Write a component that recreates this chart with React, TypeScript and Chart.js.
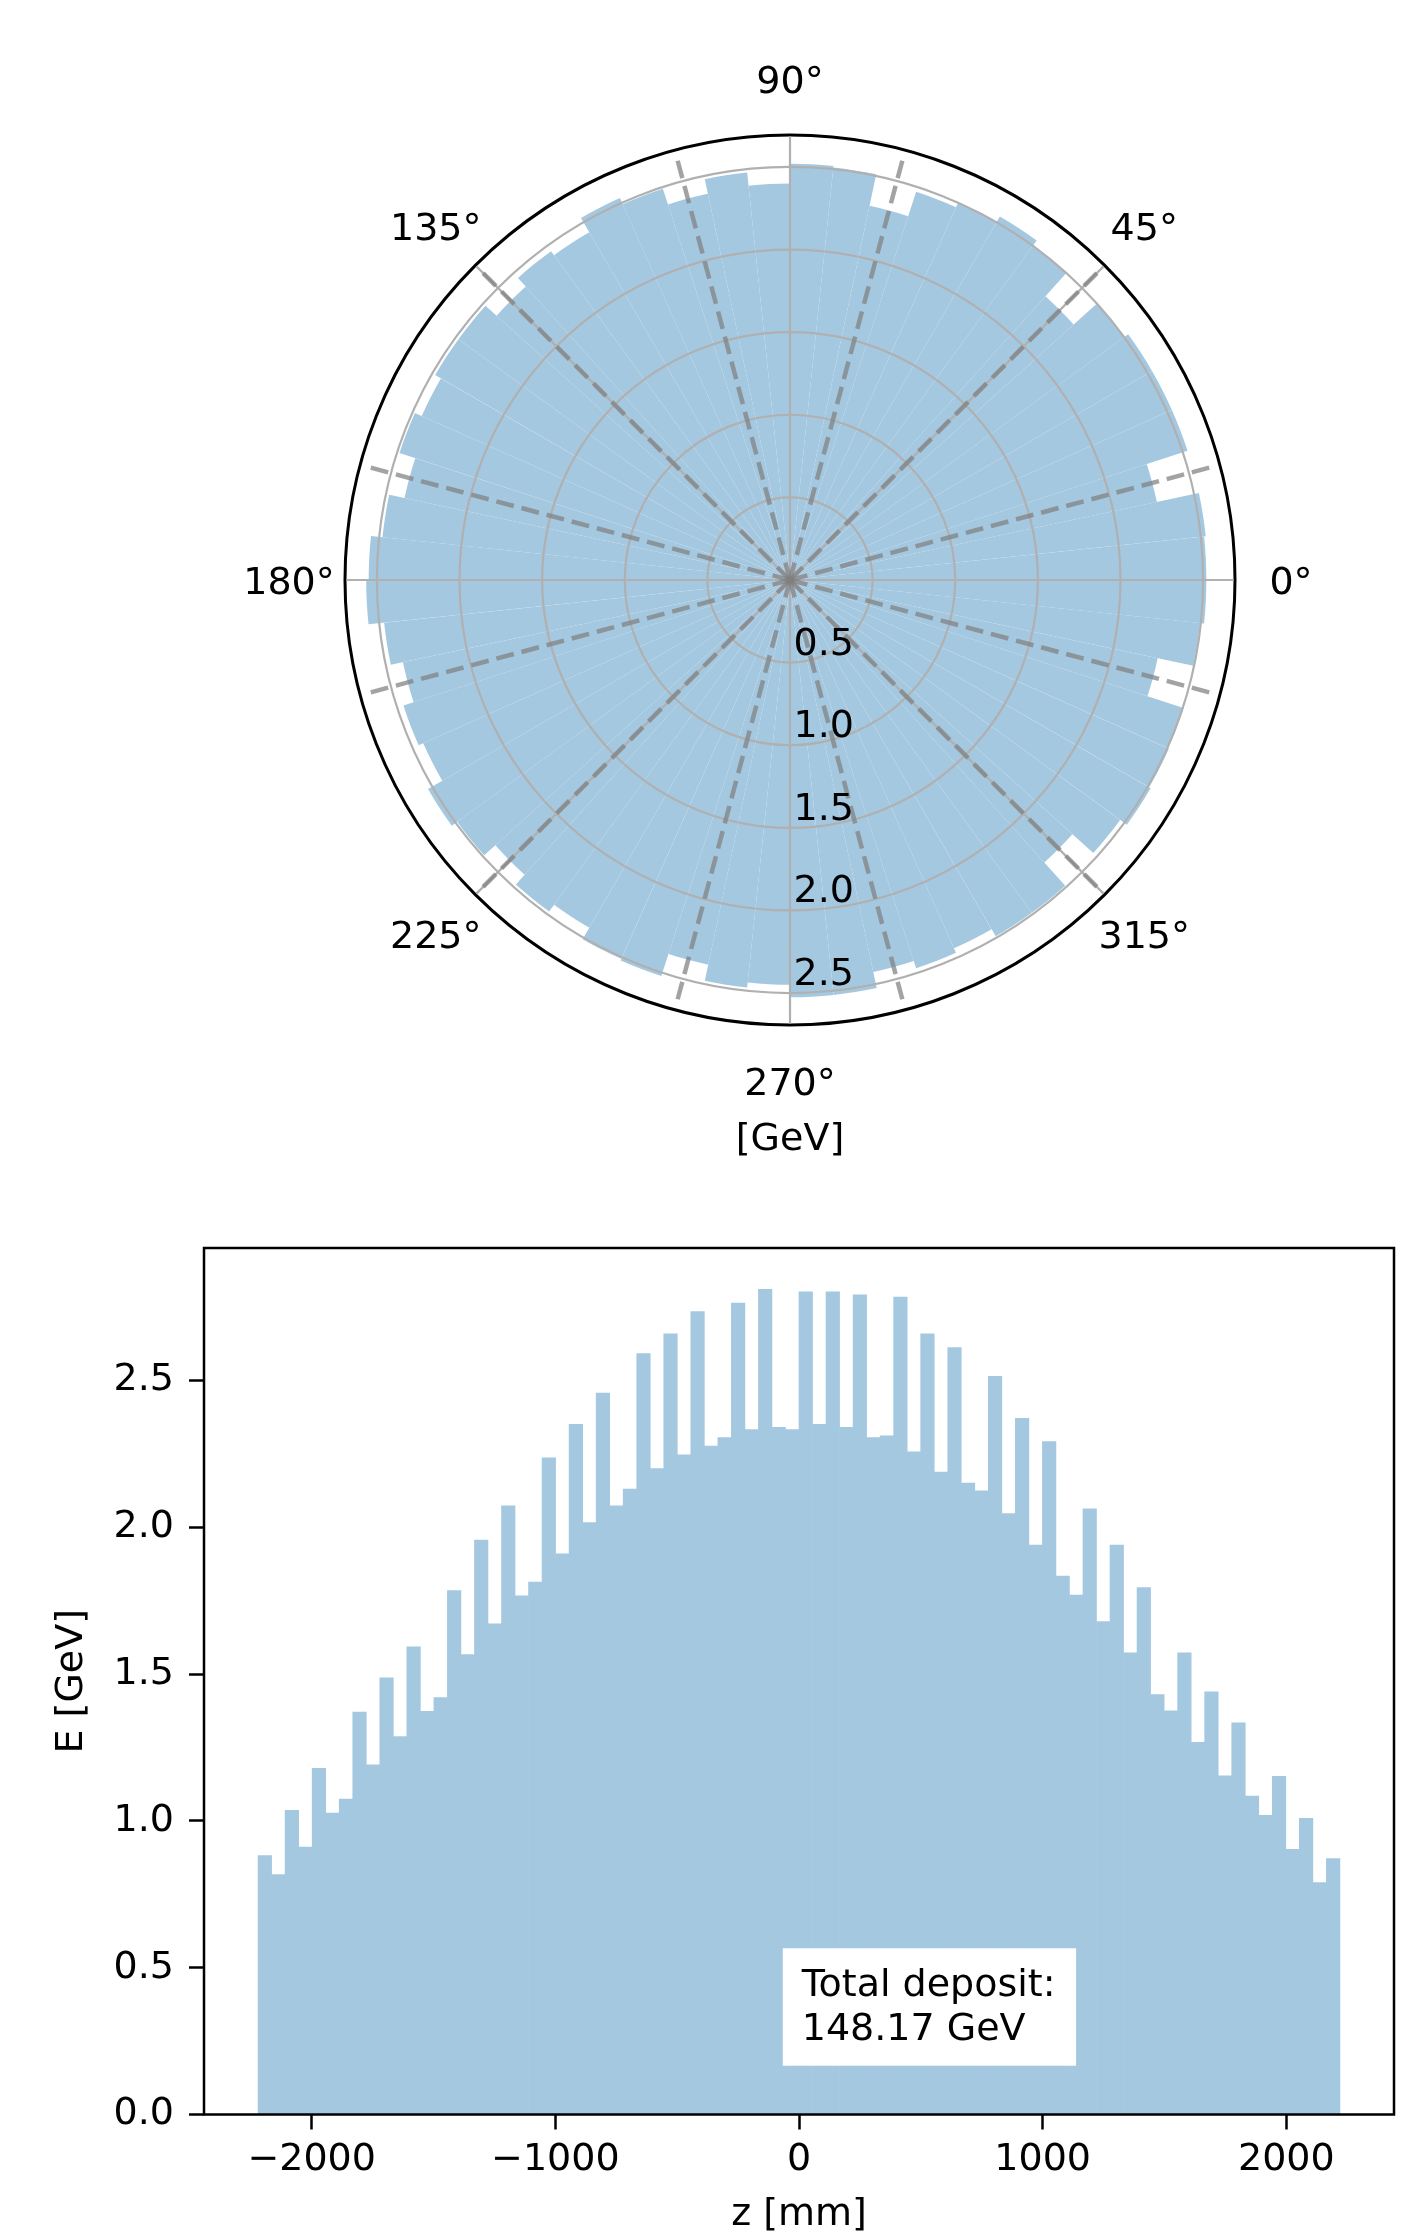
import React, { useEffect, useRef } from 'react';
import { Chart, registerables } from 'chart.js';

Chart.register(...registerables);

const FONT = "'DejaVu Sans', 'Liberation Sans', sans-serif";
const FS = 38;
const BAR_COLOR = 'rgb(165, 200, 225)';
const GRID_COLOR = '#b0b0b0';

// ---------- phi histogram (60 bins of 6 degrees, starting at 0 deg, counter-clockwise) ----------
const PHI_E = [
  2.52, 2.53, 2.27, 2.53, 2.53, 2.53, 2.50, 2.31, 2.50, 2.54,
  2.50, 2.47, 2.315, 2.51, 2.52, 2.40, 2.48, 2.39, 2.49, 2.53,
  2.43, 2.46, 2.39, 2.48, 2.48, 2.44, 2.485, 2.385, 2.48, 2.55,
  2.565, 2.47, 2.395, 2.46, 2.43, 2.53, 2.49, 2.40, 2.48, 2.43,
  2.51, 2.52, 2.38, 2.48, 2.45, 2.525, 2.525, 2.425, 2.47, 2.44,
  2.49, 2.49, 2.30, 2.47, 2.52, 2.51, 2.505, 2.275, 2.495, 2.52,
];
const PHI_BIN_LABELS = PHI_E.map((_, i) => `${i * 6}-${i * 6 + 6}`);
const R_TICKS = [0, 0.5, 1.0, 1.5, 2.0, 2.5];
const THETA_TICKS = [0, 45, 90, 135, 180, 225, 270, 315];
const MODULE_BOUNDARIES_DEG = [15, 45, 75, 105, 135, 165, 195, 225, 255, 285, 315, 345];
const MODULE_LINE_R = 2.65;

// ---------- z histogram ----------
const Z_RANGE = [-2220, 2220];
const Z_E = [
  0.882, 0.817, 1.036, 0.911, 1.179, 1.027, 1.074, 1.371, 1.191, 1.487,
  1.287, 1.593, 1.373, 1.420, 1.785, 1.567, 1.957, 1.671, 2.073, 1.767,
  1.814, 2.237, 1.910, 2.351, 2.016, 2.457, 2.073, 2.130, 2.592, 2.200,
  2.659, 2.247, 2.735, 2.277, 2.306, 2.764, 2.333, 2.811, 2.341, 2.333,
  2.802, 2.351, 2.802, 2.341, 2.792, 2.306, 2.312, 2.784, 2.257, 2.659,
  2.188, 2.612, 2.151, 2.124, 2.514, 2.047, 2.371, 1.940, 2.292, 1.834,
  1.769, 2.063, 1.679, 1.940, 1.573, 1.795, 1.430, 1.375, 1.573, 1.268,
  1.440, 1.154, 1.334, 1.085, 1.019, 1.152, 0.903, 1.009, 0.790, 0.872,
];
const Z_TICKS = [-2000, -1000, 0, 1000, 2000];
const E_TICKS = [0, 0.5, 1.0, 1.5, 2.0, 2.5];
const TOTAL_DEPOSIT = 148.17;

const fontStr = `${FS}px ${FONT}`;

const polarDecor = {
  id: 'polarDecor',
  afterDraw(chart: any) {
    const scale = chart.scales.r;
    const ctx = chart.ctx as CanvasRenderingContext2D;
    const cx = scale.xCenter;
    const cy = scale.yCenter;
    const R = scale.getDistanceFromCenterForValue(scale.max);
    const pt = (deg: number, r: number) => [
      cx + r * Math.cos((deg * Math.PI) / 180),
      cy - r * Math.sin((deg * Math.PI) / 180),
    ];
    ctx.save();
    // angular grid lines
    ctx.strokeStyle = GRID_COLOR;
    ctx.lineWidth = 2.2;
    THETA_TICKS.forEach((d) => {
      const [x, y] = pt(d, R - 1.5);
      ctx.beginPath();
      ctx.moveTo(cx, cy);
      ctx.lineTo(x, y);
      ctx.stroke();
    });
    // module boundary dashed lines
    const rd = scale.getDistanceFromCenterForValue(MODULE_LINE_R);
    ctx.strokeStyle = 'rgba(128,128,128,0.72)';
    ctx.lineWidth = 4.5;
    ctx.setLineDash([18, 8]);
    MODULE_BOUNDARIES_DEG.forEach((d) => {
      const [x, y] = pt(d, rd);
      ctx.beginPath();
      ctx.moveTo(cx, cy);
      ctx.lineTo(x, y);
      ctx.stroke();
    });
    ctx.setLineDash([]);
    // radial tick labels along 270 deg
    ctx.fillStyle = '#000';
    ctx.font = fontStr;
    ctx.textAlign = 'left';
    ctx.textBaseline = 'alphabetic';
    R_TICKS.filter((v) => v > 0).forEach((v) => {
      ctx.fillText(v.toFixed(1), cx + 3.5, cy + scale.getDistanceFromCenterForValue(v) - 8);
    });
    // angle labels
    ctx.textAlign = 'center';
    THETA_TICKS.forEach((d) => {
      const [x, y] = pt(d, R + 56);
      ctx.fillText(`${d}\u00b0`, x, y + 13.8);
    });
    // axis label
    ctx.fillText('[GeV]', cx, cy + R + 125);
    ctx.restore();
  },
};

const histDecor = {
  id: 'histDecor',
  afterDatasetsDraw(chart: any) {
    const ctx = chart.ctx as CanvasRenderingContext2D;
    const a = chart.chartArea;
    const w = a.right - a.left;
    const h = a.bottom - a.top;
    ctx.save();
    ctx.font = fontStr;
    const lines = ['Total deposit:', `${TOTAL_DEPOSIT.toFixed(2)} GeV`];
    const tx = a.left + 0.5023 * w;
    const b2 = a.bottom - 0.086 * h;
    const b1 = b2 - 44;
    const tw = Math.max(...lines.map((l) => ctx.measureText(l).width));
    const top = b1 - 47.7;
    const bottom = b2 + 25.7;
    ctx.fillStyle = '#fff';
    ctx.fillRect(tx - 19, top, tw + 39.6, bottom - top);
    ctx.fillStyle = '#000';
    ctx.textAlign = 'left';
    ctx.textBaseline = 'alphabetic';
    ctx.fillText(lines[0], tx, b1);
    ctx.fillText(lines[1], tx, b2);
    // spines
    ctx.strokeStyle = '#000';
    ctx.lineWidth = 2.5;
    ctx.strokeRect(a.left, a.top, w, h);
    ctx.restore();
  },
};

export default function App() {
  const polarRef = useRef<HTMLCanvasElement>(null);
  const histRef = useRef<HTMLCanvasElement>(null);

  useEffect(() => {
    Chart.defaults.font.family = FONT;
    const rMax = 1.05 * Math.max(...PHI_E);
    const polar = new Chart(polarRef.current as HTMLCanvasElement, {
      type: 'polarArea',
      data: {
        labels: PHI_BIN_LABELS.slice().reverse(),
        datasets: [
          {
            data: PHI_E.slice().reverse(),
            backgroundColor: BAR_COLOR,
            borderWidth: 0,
          },
        ],
      },
      options: {
        responsive: false,
        animation: false,
        layout: { padding: { left: 345, top: 135, right: 179, bottom: 145 } },
        plugins: { legend: { display: false }, tooltip: { enabled: false } },
        scales: {
          r: {
            min: 0,
            max: rMax,
            startAngle: 90,
            afterBuildTicks: (s: any) => {
              s.ticks = [...R_TICKS, rMax].map((v) => ({ value: v }));
            },
            ticks: { display: false },
            pointLabels: { display: false },
            angleLines: { display: false },
            grid: {
              circular: true,
              z: 1,
              color: (c: any) => (c.tick && c.tick.value >= rMax - 1e-9 ? '#000' : GRID_COLOR),
              lineWidth: (c: any) => (c.tick && c.tick.value >= rMax - 1e-9 ? 3 : 2.2),
            },
          },
        },
      } as any,
      plugins: [polarDecor],
    });

    const nb = Z_E.length;
    const bw = (Z_RANGE[1] - Z_RANGE[0]) / nb;
    const centers = Z_E.map((_, i) => Z_RANGE[0] + (i + 0.5) * bw);
    const span = Z_RANGE[1] - Z_RANGE[0];
    const yMax = 1.05 * Math.max(...Z_E);
    const hist = new Chart(histRef.current as HTMLCanvasElement, {
      type: 'bar',
      data: {
        datasets: [
          {
            data: centers.map((x, i) => ({ x, y: Z_E[i] })),
            backgroundColor: BAR_COLOR,
            borderWidth: 0,
            barPercentage: 1,
            categoryPercentage: 1,
          },
        ],
      },
      options: {
        responsive: false,
        animation: false,
        layout: { padding: { left: 0, right: 20, top: 78, bottom: 0 } },
        plugins: { legend: { display: false }, tooltip: { enabled: false } },
        scales: {
          x: {
            type: 'linear',
            min: Z_RANGE[0] - 0.05 * span,
            max: Z_RANGE[1] + 0.05 * span,
            offset: false,
            afterBuildTicks: (s: any) => {
              s.ticks = Z_TICKS.map((v) => ({ value: v }));
            },
            afterFit: (s: any) => {
              s.height = 120.5;
            },
            grid: {
              offset: false,
              drawOnChartArea: false,
              drawTicks: true,
              tickLength: 15,
              tickWidth: 2.5,
              tickColor: '#000',
              color: '#000',
            },
            border: { display: false },
            ticks: {
              color: '#000',
              padding: 8,
              maxRotation: 0,
              autoSkip: false,
              font: { family: FONT, size: FS },
              callback: (v: any) => (v < 0 ? '\u2212' + Math.abs(v) : String(v)),
            },
            title: {
              display: true,
              text: 'z [mm]',
              color: '#000',
              font: { family: FONT, size: FS, lineHeight: 1 },
              padding: { top: 0, bottom: 1 },
            },
          },
          y: {
            type: 'linear',
            min: 0,
            max: yMax,
            afterBuildTicks: (s: any) => {
              s.ticks = E_TICKS.map((v) => ({ value: v }));
            },
            afterFit: (s: any) => {
              s.width = 204;
            },
            grid: {
              drawOnChartArea: false,
              drawTicks: true,
              tickLength: 15,
              tickWidth: 2.5,
              tickColor: '#000',
              color: '#000',
            },
            border: { display: false },
            ticks: {
              color: '#000',
              padding: 15,
              autoSkip: false,
              font: { family: FONT, size: FS },
              callback: (v: any) => Number(v).toFixed(1),
            },
            title: {
              display: true,
              text: 'E [GeV]',
              color: '#000',
              font: { family: FONT, size: FS, lineHeight: 1 },
              padding: { top: 53.5, bottom: 0 },
            },
          },
        },
      } as any,
      plugins: [histDecor],
    });

    return () => {
      polar.destroy();
      hist.destroy();
    };
  }, []);

  return (
    <div style={{ position: 'absolute', left: 0, top: 0, width: 1414, height: 2235, background: '#fff' }}>
      <canvas
        ref={polarRef}
        width={1414}
        height={1170}
        style={{ display: 'block', position: 'absolute', left: 0, top: 0, width: 1414, height: 1170 }}
      />
      <canvas
        ref={histRef}
        width={1414}
        height={1065}
        style={{ display: 'block', position: 'absolute', left: 0, top: 1170, width: 1414, height: 1065 }}
      />
    </div>
  );
}
